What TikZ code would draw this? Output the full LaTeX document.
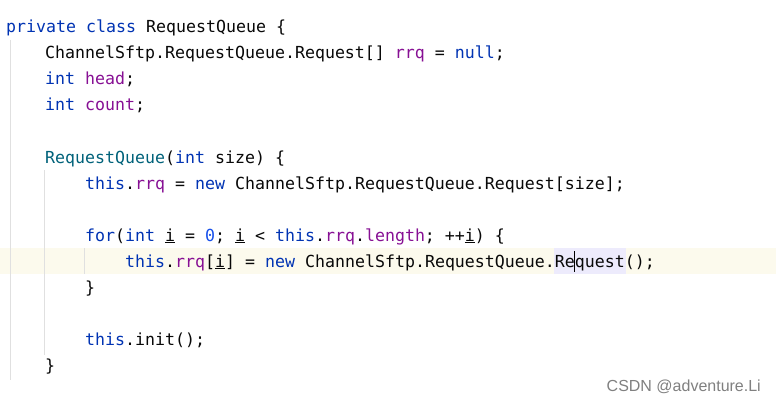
\documentclass[tikz,border=0pt]{standalone}
\usepackage{fontspec}
\setmonofont{DejaVu Sans Mono}
\setsansfont{Liberation Sans}
\definecolor{kw}{HTML}{0033B3}
\definecolor{fd}{HTML}{871094}
\definecolor{fn}{HTML}{00627A}
\definecolor{nm}{HTML}{1750EB}
\definecolor{tx}{HTML}{080808}
\newcommand{\K}[1]{\textcolor{kw}{#1}}
\newcommand{\F}[1]{\textcolor{fd}{#1}}
\newcommand{\U}[1]{\underline{#1}}
\begin{document}
\begin{tikzpicture}[x=1pt,y=-1pt,
  code/.style={anchor=base west,inner sep=0pt,font=\ttfamily\fontsize{16.6}{20}\selectfont,text=tx},
  guide/.style={draw=black!12,line width=0.8pt}]
\useasboundingbox[fill=white] (0,0) rectangle (776,401);
\fill[fill={rgb,255:red,252;green,250;blue,237}] (0,248) rectangle (776,274);
\fill[fill={rgb,255:red,237;green,235;blue,252}] (554,248) rectangle (626,274);
\draw[guide] (10,40) -- (10,380);
\draw[guide] (44,170) -- (44,355);
\draw[guide] (84,248) -- (84,274);
\node[code] (l0) at (6,33) {\K{private class} RequestQueue \{};
\node[code] (l1) at (45,59) {ChannelSftp.RequestQueue.Request[] \F{rrq} = \K{null};};
\node[code] (l2) at (45,85) {\K{int} \F{head};};
\node[code] (l3) at (45,111) {\K{int} \F{count};};
\node[code] (l5) at (45,163) {\textcolor{fn}{RequestQueue}(\K{int} size) \{};
\node[code] (l6) at (85,189) {\K{this}.\F{rrq} = \K{new} ChannelSftp.RequestQueue.Request[size];};
\node[code] (l8) at (85,241) {\K{for}(\K{int} \U{i} = \textcolor{nm}{0}; \U{i} < \K{this}.\F{rrq}.\F{length}; ++\U{i}) \{};
\node[code] (l9) at (125,267) {\K{this}.\F{rrq}[\U{i}] = \K{new} ChannelSftp.RequestQueue.Request();};
\node[code] (l10) at (85,293) {\}};
\node[code] (l12) at (85,345) {\K{this}.init();};
\node[code] (l13) at (45,371) {\}};
\draw[black,line width=1pt] (574,251) -- (574,272);
\node[anchor=base east,inner sep=0pt,font=\sffamily\fontsize{16}{18}\selectfont,text=black!50] (wm) at (761,391) {CSDN @adventure.Li};
\end{tikzpicture}
\end{document}
